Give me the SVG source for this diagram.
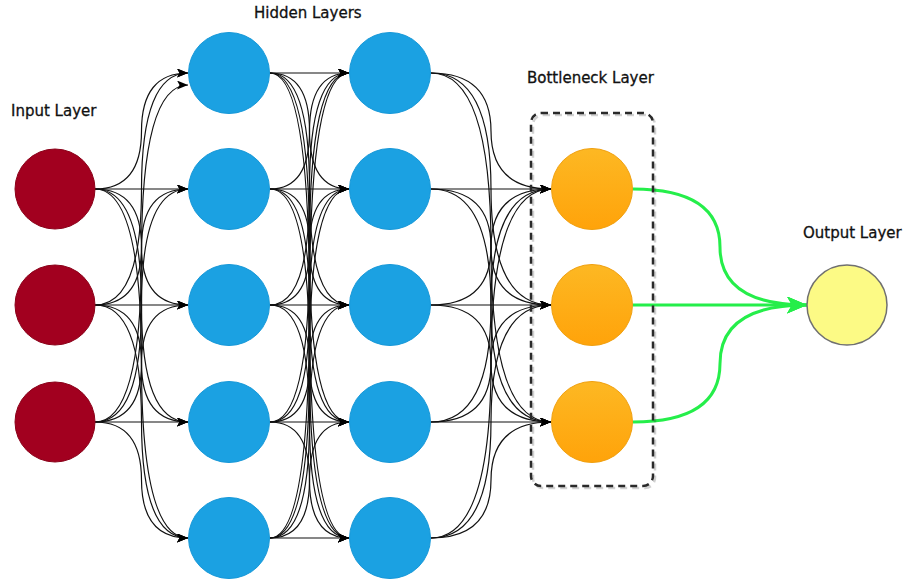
<svg xmlns="http://www.w3.org/2000/svg" width="904" height="580" viewBox="0 0 904 580">
  <style>
    .lbl { font-family: "DejaVu Sans", Verdana, sans-serif; font-size: 15px; fill: #111; stroke: #111; stroke-width: 0.3; }
    .e { fill: none; stroke: #111; stroke-width: 1.2; marker-end: url(#arr); }
    .g { fill: none; stroke: #25EE4A; stroke-width: 3; marker-end: url(#garr); }
    .in { fill: #A2001F; stroke: #8A0018; stroke-width: 1; }
    .hid { fill: #1BA1E2; stroke: #1798D8; stroke-width: 1; }
    .bn { fill: url(#orange); stroke: #F0A010; stroke-width: 1; }
    .out { fill: #FCFA85; stroke: #707070; stroke-width: 1.5; }
  </style>
  <defs>
    <marker id="arr" markerUnits="userSpaceOnUse" viewBox="0 0 11 9" markerWidth="11" markerHeight="9" refX="11" refY="4.5" orient="auto">
      <path d="M0,0 L11,4.5 L0,9 L2.5,4.5 z" fill="#000"/>
    </marker>
    <marker id="garr" markerUnits="userSpaceOnUse" viewBox="0 0 20 17" markerWidth="20" markerHeight="17" refX="20" refY="8.5" orient="auto">
      <path d="M0,0 L20,8.5 L0,17 L5,8.5 z" fill="#25EE4A"/>
    </marker>
    <linearGradient id="orange" x1="0" y1="0" x2="0" y2="1">
      <stop offset="0" stop-color="#FDB823"/>
      <stop offset="1" stop-color="#FFA30A"/>
    </linearGradient>
  </defs>

  <rect width="904" height="580" fill="#fff"/>

  <!-- layer captions -->
  <g id="labels">
    <text class="lbl" x="11" y="116">Input Layer</text>
    <text class="lbl" x="254" y="18">Hidden Layers</text>
    <text class="lbl" x="527" y="83">Bottleneck Layer</text>
    <text class="lbl" x="803" y="238">Output Layer</text>
  </g>

  <g id="connectors">
    <!-- input -> hidden 1 (channel x=141.5) -->
    <path class="e" d="M95 189 Q141.5 189 141.5 131 Q141.5 73 188 73"/>
    <path class="e" d="M95 189 L188 189"/>
    <path class="e" d="M95 189 Q141.5 189 141.5 247 Q141.5 305 188 305"/>
    <path class="e" d="M95 189 Q141.5 189 141.5 305.5 Q141.5 422 188 422"/>
    <path class="e" d="M95 189 Q141.5 189 141.5 363.5 Q141.5 538 188 538"/>
    <path class="e" d="M95 305 Q141.5 305 141.5 189 Q141.5 73 188 73"/>
    <path class="e" d="M95 305 Q141.5 305 141.5 247 Q141.5 189 188 189"/>
    <path class="e" d="M95 305 L188 305"/>
    <path class="e" d="M95 305 Q141.5 305 141.5 363.5 Q141.5 422 188 422"/>
    <path class="e" d="M95 305 Q141.5 305 141.5 421.5 Q141.5 538 188 538"/>
    <path class="e" d="M95 422 Q141.5 422 141.5 253.5 Q141.5 85 188 85"/>
    <path class="e" d="M95 422 Q141.5 422 141.5 305.5 Q141.5 189 188 189"/>
    <path class="e" d="M95 422 Q141.5 422 141.5 363.5 Q141.5 305 188 305"/>
    <path class="e" d="M95 422 L188 422"/>
    <path class="e" d="M95 422 Q141.5 422 141.5 480 Q141.5 538 188 538"/>

    <!-- hidden 1 -> hidden 2 (channel x=309.5) -->
    <path class="e" d="M270 73 L349 73"/>
    <path class="e" d="M270 73 Q309.5 73 309.5 131 Q309.5 189 349 189"/>
    <path class="e" d="M270 73 Q309.5 73 309.5 189 Q309.5 305 349 305"/>
    <path class="e" d="M270 73 Q309.5 73 309.5 247.5 Q309.5 422 349 422"/>
    <path class="e" d="M270 73 Q309.5 73 309.5 305.5 Q309.5 538 349 538"/>
    <path class="e" d="M270 189 Q309.5 189 309.5 131 Q309.5 73 349 73"/>
    <path class="e" d="M270 189 L349 189"/>
    <path class="e" d="M270 189 Q309.5 189 309.5 247 Q309.5 305 349 305"/>
    <path class="e" d="M270 189 Q309.5 189 309.5 305.5 Q309.5 422 349 422"/>
    <path class="e" d="M270 189 Q309.5 189 309.5 363.5 Q309.5 538 349 538"/>
    <path class="e" d="M270 305 Q309.5 305 309.5 189 Q309.5 73 349 73"/>
    <path class="e" d="M270 305 Q309.5 305 309.5 247 Q309.5 189 349 189"/>
    <path class="e" d="M270 305 L349 305"/>
    <path class="e" d="M270 305 Q309.5 305 309.5 363.5 Q309.5 422 349 422"/>
    <path class="e" d="M270 305 Q309.5 305 309.5 421.5 Q309.5 538 349 538"/>
    <path class="e" d="M270 422 Q309.5 422 309.5 247.5 Q309.5 73 349 73"/>
    <path class="e" d="M270 422 Q309.5 422 309.5 305.5 Q309.5 189 349 189"/>
    <path class="e" d="M270 422 Q309.5 422 309.5 363.5 Q309.5 305 349 305"/>
    <path class="e" d="M270 422 L349 422"/>
    <path class="e" d="M270 422 Q309.5 422 309.5 480 Q309.5 538 349 538"/>
    <path class="e" d="M270 538 Q309.5 538 309.5 305.5 Q309.5 73 349 73"/>
    <path class="e" d="M270 538 Q309.5 538 309.5 363.5 Q309.5 189 349 189"/>
    <path class="e" d="M270 538 Q309.5 538 309.5 421.5 Q309.5 305 349 305"/>
    <path class="e" d="M270 538 Q309.5 538 309.5 480 Q309.5 422 349 422"/>
    <path class="e" d="M270 538 L349 538"/>

    <!-- hidden 2 -> bottleneck (channel x=491) -->
    <path class="e" d="M431 73 Q491 73 491 131 Q491 189 551 189"/>
    <path class="e" d="M431 73 Q491 73 491 189 Q491 305 551 305"/>
    <path class="e" d="M431 73 Q491 73 491 247.5 Q491 422 551 422"/>
    <path class="e" d="M431 189 L551 189"/>
    <path class="e" d="M431 189 Q491 189 491 247 Q491 305 551 305"/>
    <path class="e" d="M431 189 Q491 189 491 305.5 Q491 422 551 422"/>
    <path class="e" d="M431 305 Q491 305 491 247 Q491 189 551 189"/>
    <path class="e" d="M431 305 L551 305"/>
    <path class="e" d="M431 305 Q491 305 491 363.5 Q491 422 551 422"/>
    <path class="e" d="M431 422 Q491 422 491 305.5 Q491 189 551 189"/>
    <path class="e" d="M431 422 Q491 422 491 363.5 Q491 305 551 305"/>
    <path class="e" d="M431 422 L551 422"/>
    <path class="e" d="M431 538 Q491 538 491 363.5 Q491 189 551 189"/>
    <path class="e" d="M431 538 Q491 538 491 421.5 Q491 305 551 305"/>
    <path class="e" d="M431 538 Q491 538 491 480 Q491 422 551 422"/>

    <!-- bottleneck -> output -->
    <path class="g" d="M633 189 Q720 189 720 247 Q720 305 807 305"/>
    <path class="g" d="M633 305 L807 305"/>
    <path class="g" d="M633 422 Q720 422 720 363.5 Q720 305 807 305"/>
  </g>

  <!-- dashed frame around the bottleneck layer -->
  <g id="bottleneck-frame">
    <rect x="533" y="115" width="122" height="373" rx="10" fill="none" stroke="#000" stroke-opacity="0.18" stroke-width="2.5" stroke-dasharray="7 5"/>
    <rect x="531" y="113" width="122" height="373" rx="10" fill="none" stroke="#2a2a2a" stroke-width="2.5" stroke-dasharray="7 5"/>
  </g>

  <!-- input layer -->
  <g id="in1"><circle class="in" cx="55" cy="189" r="40"/></g>
  <g id="in2"><circle class="in" cx="55" cy="305" r="40"/></g>
  <g id="in3"><circle class="in" cx="55" cy="422" r="40"/></g>

  <!-- hidden layer 1 -->
  <g id="h1_1"><circle class="hid" cx="229" cy="73" r="40.5"/></g>
  <g id="h1_2"><circle class="hid" cx="229" cy="189" r="40.5"/></g>
  <g id="h1_3"><circle class="hid" cx="229" cy="305" r="40.5"/></g>
  <g id="h1_4"><circle class="hid" cx="229" cy="422" r="40.5"/></g>
  <g id="h1_5"><circle class="hid" cx="229" cy="538" r="40.5"/></g>

  <!-- hidden layer 2 -->
  <g id="h2_1"><circle class="hid" cx="390" cy="73" r="40.5"/></g>
  <g id="h2_2"><circle class="hid" cx="390" cy="189" r="40.5"/></g>
  <g id="h2_3"><circle class="hid" cx="390" cy="305" r="40.5"/></g>
  <g id="h2_4"><circle class="hid" cx="390" cy="422" r="40.5"/></g>
  <g id="h2_5"><circle class="hid" cx="390" cy="538" r="40.5"/></g>

  <!-- bottleneck layer -->
  <g id="b1"><circle class="bn" cx="592" cy="189" r="40.5"/></g>
  <g id="b2"><circle class="bn" cx="592" cy="305" r="40.5"/></g>
  <g id="b3"><circle class="bn" cx="592" cy="422" r="40.5"/></g>

  <!-- output layer -->
  <g id="out"><circle class="out" cx="847" cy="305" r="40"/></g>
</svg>
